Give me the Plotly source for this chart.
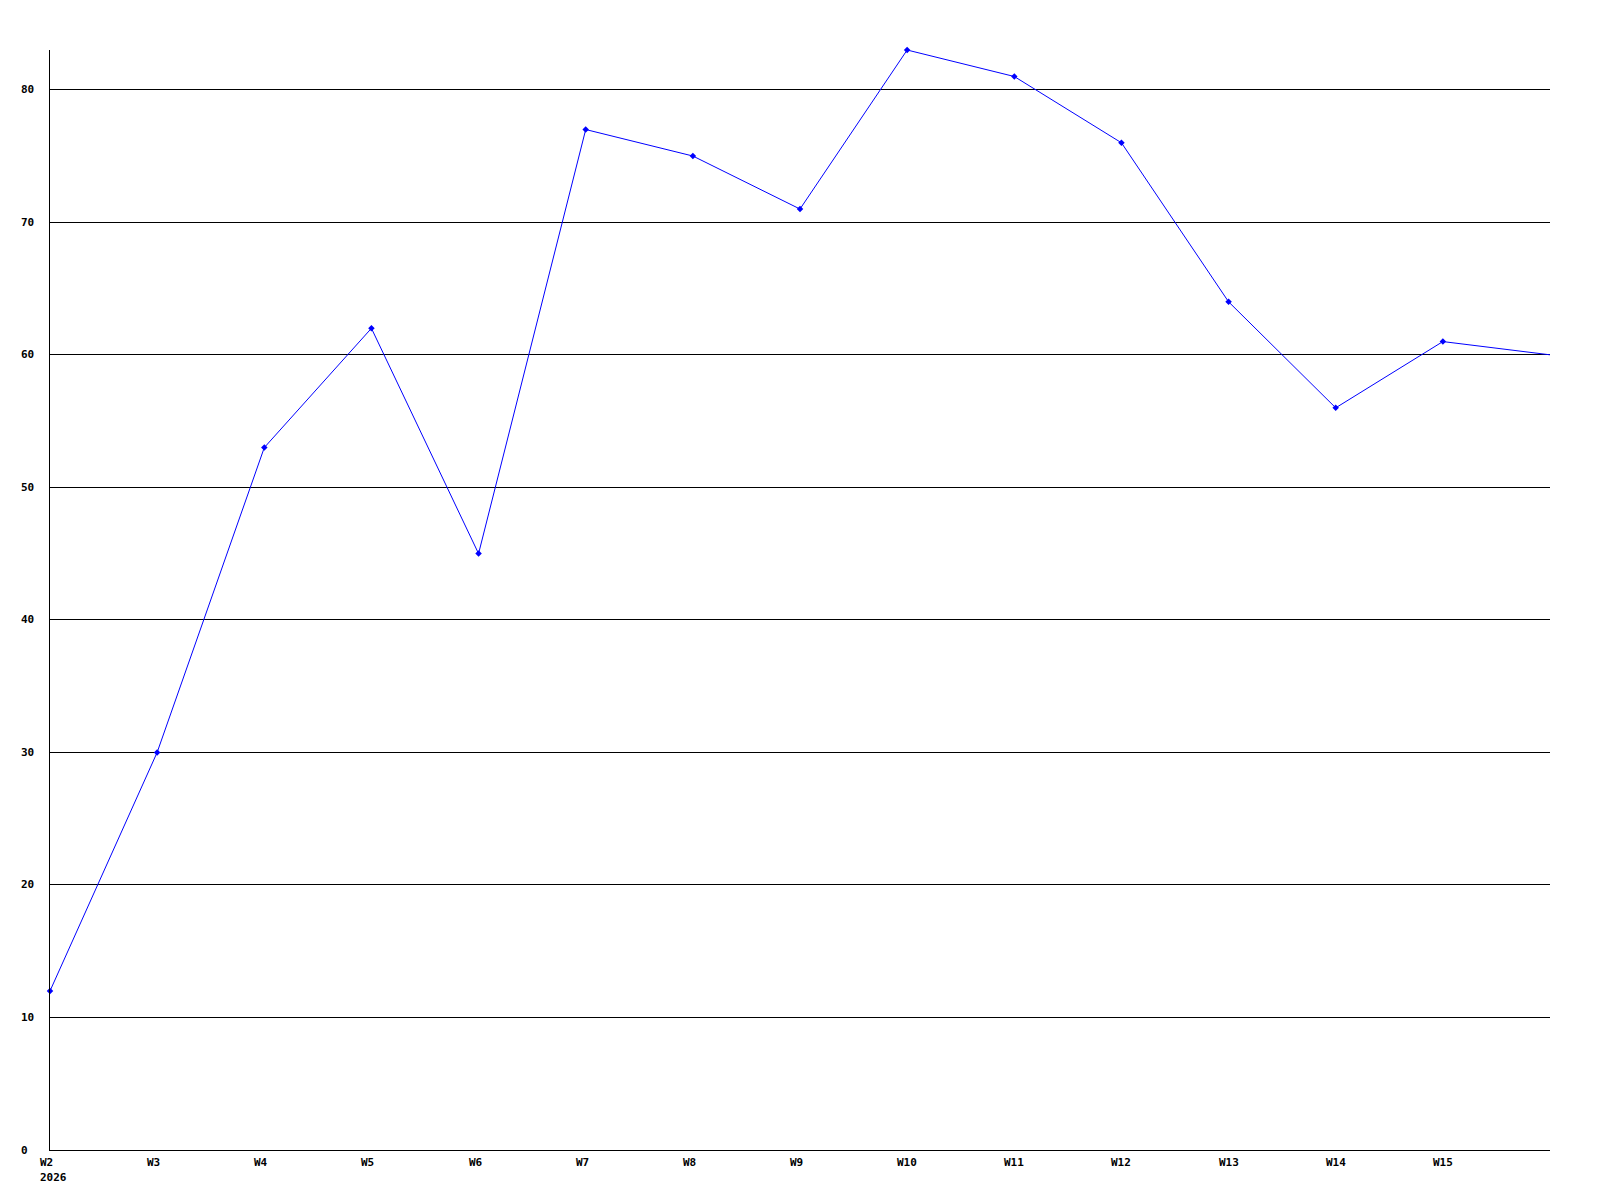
import plotly.graph_objects as go

weeks = ["W2", "W3", "W4", "W5", "W6", "W7", "W8", "W9", "W10", "W11", "W12", "W13", "W14", "W15", "W16"]
values = [12, 30, 53, 62, 45, 77, 75, 71, 83, 81, 76, 64, 56, 61, 60]
x_labels = ["W2", "W3", "W4", "W5", "W6", "W7", "W8", "W9", "W10", "W11", "W12", "W13", "W14", "W15"]
year_label = "2026"
y_ticks = [0, 10, 20, 30, 40, 50, 60, 70, 80]

xs = list(range(len(weeks)))
font = dict(family="DejaVu Sans Mono", size=11, color="black", weight="bold")

fig = go.Figure()
# line through all weeks
fig.add_trace(go.Scatter(
    x=xs, y=values, mode="lines",
    line=dict(color="#0000ff", width=1),
    hoverinfo="skip",
))
# markers on completed weeks (final, current week has no marker)
fig.add_trace(go.Scatter(
    x=xs[:-1], y=values[:-1], mode="markers",
    marker=dict(symbol="diamond", size=5, color="#0000ff"),
    cliponaxis=False,
    hoverinfo="skip",
))

annotations = []
for i, lab in enumerate(x_labels):
    annotations.append(dict(x=i, y=0, xref="x", yref="y", text=lab, showarrow=False,
                            xanchor="left", yanchor="middle", xshift=-12, yshift=-12, font=font))
annotations.append(dict(x=0, y=0, xref="x", yref="y", text=year_label, showarrow=False,
                        xanchor="left", yanchor="middle", xshift=-12, yshift=-27, font=font))
for t in y_ticks:
    annotations.append(dict(x=0, y=t, xref="paper", yref="y", text=str(t), showarrow=False,
                            xanchor="left", yanchor="middle", xshift=-31.5, font=font))

fig.update_layout(
    width=1600, height=1200,
    margin=dict(l=42, r=58, t=42, b=58),
    paper_bgcolor="white", plot_bgcolor="white",
    showlegend=False,
    annotations=annotations,
    xaxis=dict(range=[0, len(weeks) - 1], showgrid=False, zeroline=False, showticklabels=False,
               showline=True, linecolor="black", linewidth=1, ticks=""),
    yaxis=dict(range=[0, 83], tickvals=y_ticks, showticklabels=False, showgrid=True,
               gridcolor="black", gridwidth=1, zeroline=False,
               showline=True, linecolor="black", linewidth=1, ticks=""),
)

fig.write_html("out.html")
